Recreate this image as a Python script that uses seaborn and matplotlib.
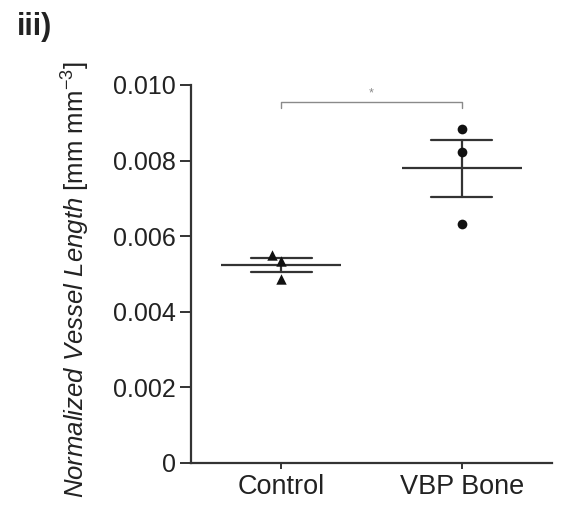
import matplotlib
matplotlib.use("Agg")
import matplotlib.pyplot as plt
import seaborn as sns
import pandas as pd
import numpy as np

# ---- data ----
categories = ["Control", "VBP Bone"]
control_values = [0.00550, 0.00535, 0.00486]
vbp_values = [0.00883, 0.00823, 0.00633]
y_ticks = [0, 0.002, 0.004, 0.006, 0.008, 0.010]
y_tick_labels = ["0", "0.002", "0.004", "0.006", "0.008", "0.010"]
sig_bracket_y = [0.0094, 0.00956, 0.00956, 0.0094]
sig_label = "*"

df = pd.DataFrame({
    "group": ["Control"] * len(control_values) + ["VBP Bone"] * len(vbp_values),
    "value": control_values + vbp_values,
})

sns.set_style("ticks")
plt.rcParams["font.family"] = ["Liberation Sans", "DejaVu Sans"]
plt.rcParams["mathtext.fontset"] = "custom"
plt.rcParams["mathtext.rm"] = "Liberation Sans"
plt.rcParams["mathtext.it"] = "Liberation Sans:italic"

dark = "#333333"

fig = plt.figure(figsize=(5.64, 5.05), dpi=100)
ax = fig.add_axes([191 / 564, 1 - 462.7 / 505, (552 - 191) / 564, (462.7 - 85) / 505])

# individual points
sns.swarmplot(data=df[df.group == "Control"], x="group", y="value", order=categories,
              marker="^", color="#111111", size=7.5, ax=ax, clip_on=False)
sns.swarmplot(data=df[df.group == "VBP Bone"], x="group", y="value", order=categories,
              marker="o", color="#111111", size=7, ax=ax, clip_on=False)

# SEM error bars
sns.pointplot(data=df, x="group", y="value", order=categories, errorbar="se",
              capsize=0.34, linestyle="none", marker="", color=dark,
              err_kws={"linewidth": 1.6}, ax=ax)
# mean line
sns.pointplot(data=df, x="group", y="value", order=categories, errorbar=None,
              linestyle="none", marker="_", markersize=86, markeredgewidth=1.6,
              color=dark, ax=ax)

# significance bracket
ax.plot([0, 0, 1, 1], sig_bracket_y, color="#8a8a8a", lw=1.0, clip_on=False)
ax.text(0.5, 0.00962, sig_label, ha="center", va="bottom", color="#8a8a8a", fontsize=9)

ax.set_xlim(-0.5, 1.5)
ax.set_ylim(0, 0.010)
ax.set_yticks(y_ticks, labels=y_tick_labels)
ax.set_xlabel("")
ax.set_ylabel("")
for side in ["top", "right"]:
    ax.spines[side].set_visible(False)
for side in ["left", "bottom"]:
    ax.spines[side].set_color(dark)
    ax.spines[side].set_linewidth(1.6)
ax.tick_params(axis="y", length=8, width=1.4, color=dark, pad=3, labelsize=18, labelcolor="#222222")
ax.tick_params(axis="x", length=4, width=1.4, color=dark, pad=4, labelsize=19.5, labelcolor="#222222")

fig.text(76 / 564, 1 - 280 / 505,
         r"$\it{Normalized\ Vessel\ Length}$ [mm mm$^{-3}$]",
         rotation=90, ha="center", va="center", fontsize=18.5, color="#222222")
fig.text(17 / 564, 1 - 12 / 505, "iii)", ha="left", va="top", fontsize=22,
         fontweight="bold", color="#222222")

fig.savefig("out.png", dpi=100)
